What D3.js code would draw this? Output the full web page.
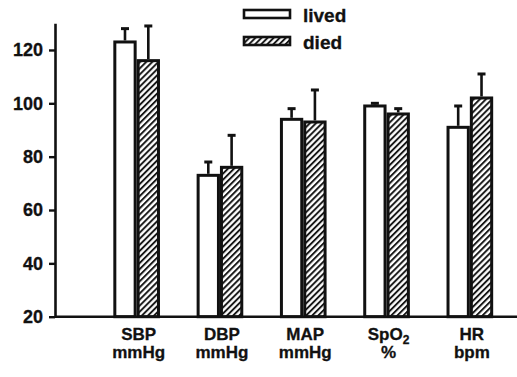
<!DOCTYPE html>
<html>
<head>
<meta charset="utf-8">
<script src="https://cdn.jsdelivr.net/npm/d3@7"></script>
<style>
  html, body { margin: 0; padding: 0; background: #fff; }
  svg { display: block; font-family: "Liberation Sans", Arial, sans-serif; font-weight: 700; }
</style>
</head>
<body>
<svg id="chart" width="517" height="377"></svg>
<script>
// Vital signs on admission: mean + SD for patients who lived vs. died
const categories = ["SBP", "DBP", "MAP", "SpO2", "HR"];
const units = ["mmHg", "mmHg", "mmHg", "%", "bpm"];
const groups = ["lived", "died"];
const livedMean = [123, 73, 94, 99, 91];
const livedSD = [5, 5, 4, 1, 8];
const diedMean = [116, 76, 93, 96, 102];
const diedSD = [13, 12, 12, 2, 9];
const yTicks = [20, 40, 60, 80, 100, 120];

const svg = d3.select("#chart");
const ink = "#111";
const font = "'Liberation Sans', Arial, sans-serif";

const y = d3.scaleLinear().domain([20, 130]).range([316.7, 23.3]);
const x = d3.scaleBand().domain(categories).range([95, 511.5])
  .paddingInner(0.44).paddingOuter(0.22);
const xg = d3.scaleBand().domain(groups).range([0, x.bandwidth()]);

// diagonal hatch for the "died" group
const defs = svg.append("defs");
const pat = defs.append("pattern")
  .attr("id", "hatch").attr("patternUnits", "userSpaceOnUse")
  .attr("width", 4.3).attr("height", 4.3)
  .attr("patternTransform", "rotate(45)");
pat.append("rect").attr("width", 4.3).attr("height", 4.3).attr("fill", "#fff");
pat.append("line").attr("x1", 1).attr("x2", 1).attr("y1", 0).attr("y2", 4.3)
  .attr("stroke", ink).attr("stroke-width", 1.9);

const rows = categories.map((c, i) => [
  { cat: c, group: "lived", mean: livedMean[i], sd: livedSD[i] },
  { cat: c, group: "died", mean: diedMean[i], sd: diedSD[i] }
]).flat();

const sw = 3;
const fillFor = g => g === "lived" ? "#fff" : "url(#hatch)";

// bars
svg.append("g").selectAll("rect").data(rows).join("rect")
  .attr("x", d => x(d.cat) + xg(d.group) + sw / 2)
  .attr("width", xg.bandwidth() - sw)
  .attr("y", d => y(d.mean))
  .attr("height", d => y(20) - y(d.mean))
  .attr("fill", d => fillFor(d.group))
  .attr("stroke", ink).attr("stroke-width", sw);

// error bars (upper SD only)
const eb = svg.append("g").attr("stroke", ink).attr("fill", "none");
eb.selectAll("line.v").data(rows).join("line").attr("class", "v")
  .attr("x1", d => x(d.cat) + xg(d.group) + xg.bandwidth() / 2)
  .attr("x2", d => x(d.cat) + xg(d.group) + xg.bandwidth() / 2)
  .attr("y1", d => y(d.mean) - sw / 2)
  .attr("y2", d => y(d.mean + d.sd))
  .attr("stroke-width", 2.6);
eb.selectAll("line.cap").data(rows).join("line").attr("class", "cap")
  .attr("x1", d => x(d.cat) + xg(d.group) + xg.bandwidth() / 2 - 4)
  .attr("x2", d => x(d.cat) + xg(d.group) + xg.bandwidth() / 2 + 4)
  .attr("y1", d => y(d.mean + d.sd))
  .attr("y2", d => y(d.mean + d.sd))
  .attr("stroke-width", 3);

// y axis
const yAxis = svg.append("g").attr("transform", "translate(55,0)")
  .call(d3.axisLeft(y).tickValues(yTicks).tickSize(6).tickSizeOuter(0).tickPadding(6));
yAxis.select(".domain").attr("stroke", ink).attr("stroke-width", 2.6);
yAxis.selectAll(".tick line").attr("stroke", ink).attr("stroke-width", 2.4);
yAxis.selectAll(".tick text")
  .attr("font-family", font)
  .attr("font-weight", 700).attr("font-size", 18).attr("fill", ink)
  .attr("stroke", ink).attr("stroke-width", 0.3);

// x baseline
svg.append("line")
  .attr("x1", 55).attr("x2", 517)
  .attr("y1", y(20)).attr("y2", y(20))
  .attr("stroke", ink).attr("stroke-width", 2.6);

// category labels (two lines)
const lab = svg.append("g").attr("font-size", 17).attr("fill", ink)
  .attr("stroke", ink).attr("stroke-width", 0.3)
  .attr("font-family", font).attr("font-weight", 700).attr("text-anchor", "middle");
categories.forEach((c, i) => {
  const cx = x(c) + x.bandwidth() / 2 + 2;
  const t1 = lab.append("text").attr("x", cx).attr("y", 340);
  if (c === "SpO2") {
    t1.append("tspan").text("SpO");
    t1.append("tspan").attr("font-size", 12).attr("dy", 4).text("2");
  } else {
    t1.text(c);
  }
  lab.append("text").attr("x", cx).attr("y", 358).text(units[i]);
});

// legend
const leg = svg.append("g").attr("font-family", font).attr("font-weight", 700);
const legY = [10, 37];
groups.forEach((g, i) => {
  leg.append("rect").attr("x", 244).attr("y", legY[i]).attr("width", 46).attr("height", 8)
    .attr("fill", fillFor(g)).attr("stroke", ink).attr("stroke-width", 2.6);
  leg.append("text").attr("x", 303).attr("y", legY[i] + 12)
    .attr("font-size", 19).attr("fill", ink)
    .attr("stroke", ink).attr("stroke-width", 0.3).text(g);
});
</script>
</body>
</html>
